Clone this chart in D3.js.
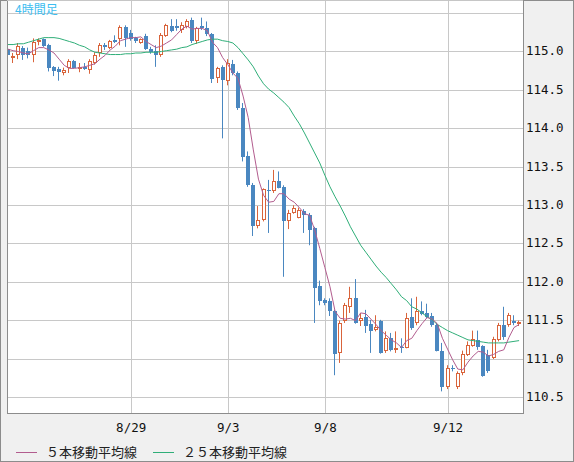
<!DOCTYPE html>
<html>
<head>
<meta charset="utf-8">
<script src="https://cdn.jsdelivr.net/npm/d3@7.9.0/dist/d3.min.js"></script>
<style>
  body { margin: 0; background: #f0f0f0; }
  svg { display: block; }
  .axis text { font-family: 'DejaVu Sans Mono', monospace; font-size: 12.5px; fill: #111; }
  .legend text { font-family: 'Noto Sans CJK JP', sans-serif; font-size: 13px; fill: #222; }
</style>
</head>
<body>
<svg id="chart" width="574" height="462"></svg>
<script>
// 4-hour candles, oldest first
const open = [
  115.02, 114.91, 114.94, 115.04, 114.99, 114.94, 115.11, 115.15, 115.07, 114.79,
  114.76, 114.71, 114.77, 114.87, 114.77, 114.79, 114.75, 114.84, 114.97, 115.07,
  115.03, 115.14, 115.15, 115.31, 115.23, 115.16, 115.10, 115.19, 115.02, 114.99,
  114.94, 115.19, 115.32, 115.32, 115.27, 115.31, 115.40, 115.12, 115.32, 115.30,
  115.22, 114.64, 114.79, 114.60, 114.83, 114.71, 114.26, 113.63, 113.25, 112.72,
  112.80, 113.19, 113.17, 113.31, 113.23, 112.78, 112.89, 112.83, 112.92, 112.86,
  112.69, 111.94, 111.76, 111.74, 111.62, 111.07, 111.48, 111.67, 111.79, 111.48,
  111.54, 111.45, 111.37, 111.48, 111.09, 111.27, 111.11, 111.15, 111.14, 111.54,
  111.46, 111.61, 111.59, 111.55, 111.43, 111.10, 110.63, 110.88, 110.63, 110.81,
  111.04, 111.16, 111.24, 111.16, 111.04, 111.00, 111.24, 111.43, 111.43, 111.49,
  111.45
];
const high = [
  115.03, 114.97, 115.10, 115.06, 115.04, 115.16, 115.16, 115.16, 115.09, 114.80,
  114.79, 114.78, 114.89, 114.88, 114.84, 114.84, 114.89, 114.98, 115.10, 115.10,
  115.14, 115.20, 115.33, 115.33, 115.27, 115.18, 115.16, 115.22, 115.05, 115.07,
  115.23, 115.35, 115.41, 115.41, 115.37, 115.41, 115.43, 115.31, 115.43, 115.38,
  115.23, 114.79, 114.81, 114.89, 114.88, 114.73, 114.32, 113.69, 113.28, 112.98,
  113.21, 113.32, 113.45, 113.43, 113.25, 112.93, 112.99, 112.96, 112.94, 112.89,
  112.71, 112.01, 111.78, 111.78, 111.63, 111.49, 111.72, 111.93, 112.03, 111.59,
  111.63, 111.50, 111.56, 111.50, 111.35, 111.33, 111.35, 111.26, 111.59, 111.78,
  111.80, 111.74, 111.71, 111.59, 111.46, 111.20, 110.91, 110.91, 110.83, 111.10,
  111.22, 111.36, 111.36, 111.17, 111.11, 111.28, 111.46, 111.67, 111.59, 111.56,
  111.49
];
const low = [
  114.82, 114.84, 114.89, 114.88, 114.90, 114.85, 115.07, 115.05, 114.73, 114.67,
  114.61, 114.68, 114.71, 114.77, 114.72, 114.75, 114.70, 114.82, 114.92, 115.01,
  115.02, 115.10, 115.07, 115.05, 115.13, 115.10, 115.09, 115.01, 114.96, 114.79,
  114.92, 115.18, 115.24, 115.26, 115.23, 115.29, 115.10, 115.09, 115.27, 115.19,
  114.58, 114.58, 113.86, 114.55, 114.68, 114.23, 113.56, 113.23, 112.59, 112.69,
  112.78, 112.63, 113.15, 113.21, 112.06, 112.68, 112.88, 112.82, 112.63, 112.47,
  111.46, 111.69, 111.69, 111.55, 110.78, 110.94, 111.46, 111.59, 111.45, 111.42,
  111.33, 111.07, 111.35, 111.06, 111.07, 111.09, 111.07, 111.07, 111.13, 111.37,
  111.43, 111.56, 111.52, 111.41, 111.09, 110.57, 110.60, 110.83, 110.60, 110.78,
  111.03, 111.15, 111.11, 110.76, 110.81, 110.99, 111.22, 111.24, 111.41, 111.43,
  111.42
];
const close = [
  114.94, 114.93, 115.06, 114.95, 114.94, 115.11, 115.14, 115.06, 114.78, 114.74,
  114.72, 114.75, 114.87, 114.78, 114.79, 114.76, 114.87, 114.95, 115.07, 115.05,
  115.13, 115.11, 115.31, 115.17, 115.15, 115.12, 115.15, 115.02, 114.98, 114.95,
  115.20, 115.33, 115.25, 115.30, 115.34, 115.38, 115.12, 115.30, 115.29, 115.22,
  114.63, 114.77, 114.62, 114.84, 114.71, 114.25, 113.62, 113.25, 112.72, 112.80,
  113.20, 113.17, 113.30, 113.22, 112.79, 112.89, 112.95, 112.93, 112.86, 112.67,
  111.92, 111.75, 111.72, 111.61, 111.06, 111.46, 111.69, 111.79, 111.46, 111.53,
  111.42, 111.36, 111.41, 111.07, 111.26, 111.11, 111.14, 111.13, 111.53, 111.39,
  111.62, 111.58, 111.54, 111.43, 111.10, 110.63, 110.88, 110.86, 110.81, 111.05,
  111.17, 111.25, 111.15, 110.77, 110.83, 111.25, 111.43, 111.28, 111.56, 111.46,
  111.47
];
// 5本移動平均線
const ma5 = [
  115.02, 115.00, 114.99, 114.97, 114.96, 115.00, 115.04, 115.04, 115.01, 114.97,
  114.89, 114.81, 114.77, 114.77, 114.78, 114.79, 114.81, 114.83, 114.89, 114.94,
  115.01, 115.06, 115.13, 115.15, 115.17, 115.17, 115.18, 115.12, 115.08, 115.04,
  115.06, 115.10, 115.14, 115.21, 115.28, 115.32, 115.28, 115.29, 115.29, 115.26,
  115.11, 115.04, 114.91, 114.82, 114.71, 114.64, 114.41, 114.13, 113.71, 113.33,
  113.12, 113.03, 113.04, 113.14, 113.14, 113.07, 113.03, 112.96, 112.88, 112.86,
  112.67, 112.43, 112.18, 111.93, 111.61, 111.52, 111.51, 111.52, 111.49, 111.59,
  111.58, 111.51, 111.44, 111.36, 111.30, 111.24, 111.20, 111.14, 111.23, 111.26,
  111.36, 111.45, 111.53, 111.51, 111.45, 111.26, 111.12, 110.98, 110.86, 110.85,
  110.95, 111.03, 111.09, 111.08, 111.03, 111.05, 111.09, 111.11, 111.27, 111.40,
  111.44
];
// 25本移動平均線
const ma25 = [
  115.08, 115.08, 115.09, 115.09, 115.11, 115.13, 115.15, 115.17, 115.17, 115.17,
  115.16, 115.14, 115.12, 115.10, 115.07, 115.05, 115.01, 114.98, 114.97, 114.96,
  114.95, 114.95, 114.95, 114.96, 114.96, 114.97, 114.97, 114.98, 114.98, 114.98,
  114.99, 115.00, 115.01, 115.02, 115.04, 115.05, 115.08, 115.10, 115.12, 115.14,
  115.15, 115.15, 115.13, 115.12, 115.10, 115.04, 114.96, 114.88, 114.79, 114.67,
  114.57, 114.50, 114.45, 114.39, 114.33, 114.26, 114.15, 114.05, 113.93, 113.80,
  113.67, 113.54, 113.38, 113.23, 113.10, 112.98, 112.85, 112.71, 112.59, 112.47,
  112.38, 112.29, 112.20, 112.12, 112.05, 111.97, 111.89, 111.80, 111.75, 111.67,
  111.64, 111.59, 111.54, 111.50, 111.44, 111.40, 111.36, 111.33, 111.30, 111.27,
  111.24, 111.23, 111.22, 111.21, 111.20, 111.20, 111.20, 111.20, 111.21, 111.22,
  111.23
];

const yTicks = [110.5, 111.0, 111.5, 112.0, 112.5, 113.0, 113.5, 114.0, 114.5, 115.0, 115.5];
const xTickIndex = [24, 43, 62, 86];
const xTickLabels = ['8/29', '9/3', '9/8', '9/12'];
const legendLabels = ['５本移動平均線', '２５本移動平均線'];

const W = 574, H = 462;
const plot = { left: 7, right: 523, top: 0.5, bottom: 413 };
const upColor = '#d9643b';
const downColor = '#4a87c0';
const ma5Color = '#b25c8e';
const ma25Color = '#2fae78';

const svg = d3.select('#chart');

// panel background + outer frame
svg.append('rect')
  .attr('x', 0.5).attr('y', 0.5)
  .attr('width', W - 1).attr('height', H - 1)
  .attr('fill', '#f0f0f0')
  .attr('stroke', '#8c8c8c');

svg.append('rect')
  .attr('x', plot.left).attr('y', plot.top)
  .attr('width', plot.right - plot.left).attr('height', plot.bottom - plot.top)
  .attr('fill', '#fff');

const x = d3.scaleLinear().domain([0, 100]).range([8, 519.1]);
const y = d3.scaleLinear().domain([110.5, 115.5]).range([396.75, 12.25]);

// horizontal grid + price labels on the right
const yAxis = svg.append('g')
  .attr('class', 'axis')
  .attr('transform', `translate(${plot.right},0)`)
  .call(d3.axisRight(y)
    .tickValues(yTicks)
    .tickSize(-(plot.right - plot.left))
    .tickPadding(3)
    .tickFormat(d => d === 115.5 ? '' : d.toFixed(1)));
yAxis.select('.domain').remove();
yAxis.selectAll('line').attr('stroke', '#c8c8c8').attr('shape-rendering', 'crispEdges');
yAxis.selectAll('line').attr('transform', 'translate(0,0.5)');

// vertical grid + date labels
const xAxis = svg.append('g')
  .attr('class', 'axis')
  .attr('transform', `translate(0,${plot.bottom})`)
  .call(d3.axisBottom(x)
    .tickValues(xTickIndex)
    .tickSize(-(plot.bottom - plot.top))
    .tickPadding(10)
    .tickFormat((d, i) => xTickLabels[i]));
xAxis.select('.domain').remove();
xAxis.selectAll('line').attr('stroke', '#c8c8c8').attr('shape-rendering', 'crispEdges');

svg.append('defs').append('clipPath').attr('id', 'clip')
  .append('rect')
  .attr('x', plot.left + 1).attr('y', plot.top)
  .attr('width', plot.right - plot.left - 1).attr('height', plot.bottom - plot.top);

const body = svg.append('g').attr('clip-path', 'url(#clip)');

// candles
open.forEach((o, i) => {
  const c = close[i];
  const up = c >= o;
  const cx = Math.round(x(i));
  const color = up ? upColor : downColor;

  body.append('line')
    .attr('x1', cx - 0.5).attr('x2', cx - 0.5)
    .attr('y1', y(high[i])).attr('y2', y(low[i]))
    .attr('stroke', color);

  const top = Math.round(y(Math.max(o, c)));
  const bot = Math.max(Math.round(y(Math.min(o, c))), top + 1);

  if (up) {
    body.append('rect')
      .attr('x', cx - 1.5).attr('y', top + 0.5)
      .attr('width', 3).attr('height', Math.max(bot - top - 1, 1))
      .attr('fill', '#fff')
      .attr('stroke', color)
      .attr('shape-rendering', 'crispEdges');
  } else {
    body.append('rect')
      .attr('x', cx - 2).attr('y', top)
      .attr('width', 4).attr('height', bot - top)
      .attr('fill', color)
      .attr('shape-rendering', 'crispEdges');
  }
});

const line = d3.line().x((d, i) => x(i)).y(d => y(d));

body.append('path')
  .datum(ma25)
  .attr('d', line)
  .attr('fill', 'none')
  .attr('stroke', ma25Color)
  .attr('stroke-width', 1);

body.append('path')
  .datum(ma5)
  .attr('d', line)
  .attr('fill', 'none')
  .attr('stroke', ma5Color)
  .attr('stroke-width', 1);

// plot frame
svg.append('path')
  .attr('d', `M${plot.left + 0.5},${plot.top}V${plot.bottom + 0.5}H${plot.right + 0.5}V0`)
  .attr('fill', 'none')
  .attr('stroke', '#8c8c8c')
  .attr('shape-rendering', 'crispEdges');

svg.append('text')
  .attr('x', 15).attr('y', 14)
  .attr('font-family', "'Noto Sans CJK JP', sans-serif")
  .attr('font-size', 12)
  .attr('fill', '#3dbdf0')
  .text('4時間足');

// legend
const legend = svg.append('g').attr('class', 'legend');
const legendX = [16, 153];
const legendColors = [ma5Color, ma25Color];

legendLabels.forEach((label, idx) => {
  legend.append('line')
    .attr('x1', legendX[idx]).attr('x2', legendX[idx] + 21)
    .attr('y1', 452.5).attr('y2', 452.5)
    .attr('stroke', legendColors[idx]);
  legend.append('text')
    .attr('x', legendX[idx] + 30).attr('y', 453)
    .attr('dominant-baseline', 'middle')
    .text(label);
});
</script>
</body>
</html>
